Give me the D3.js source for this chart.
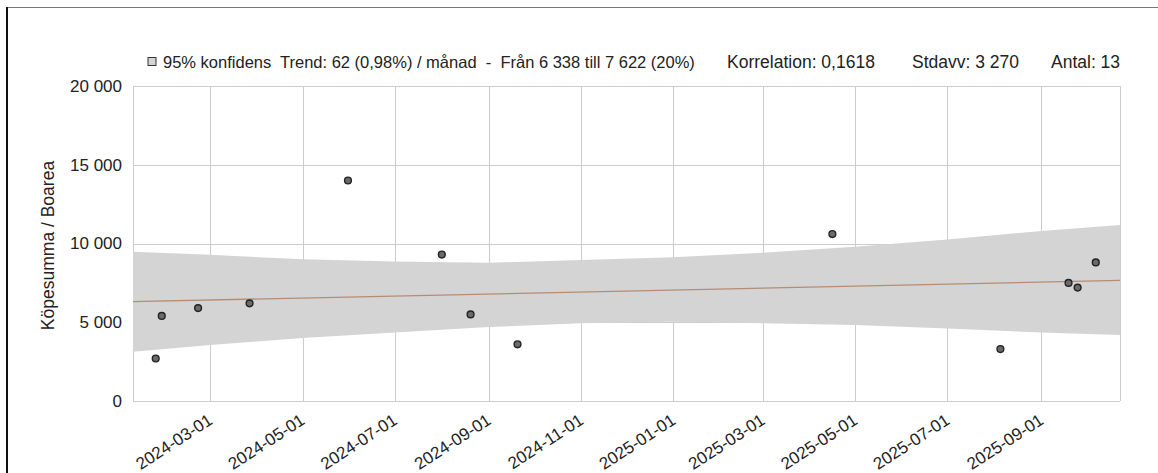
<!DOCTYPE html>
<html>
<head>
<meta charset="utf-8">
<script src="https://cdn.jsdelivr.net/npm/d3@7"></script>
<style>
  html, body { margin: 0; padding: 0; background: #fff; }
  svg { display: block; font-family: "Liberation Sans", Arial, sans-serif; }
  text { white-space: pre; }
</style>
</head>
<body>
<svg id="chart" width="1158" height="473"></svg>
<script>
// Köpesumma / Boarea per affär
const saleDates = ["2024-01-25","2024-01-29","2024-02-22","2024-03-27","2024-05-31","2024-08-01",
                   "2024-08-20","2024-09-20","2025-04-16","2025-08-05","2025-09-19","2025-09-25","2025-10-07"];
const saleValues = [2700, 5400, 5900, 6200, 14000, 9300, 5500, 3600, 10600, 3300, 7500, 7200, 8800];

// Trendlinje: värde vid första och sista affären
const trendDates = ["2024-01-25", "2025-10-07"];
const trendValues = [6338, 7622];

// 95% konfidensintervall runt trenden
const bandDates = ["2024-01-10","2024-03-01","2024-05-01","2024-07-01","2024-09-01","2024-11-01",
                   "2025-01-01","2025-03-01","2025-05-01","2025-07-01","2025-09-01","2025-10-23"];
const bandUpper = [9480, 9280, 9000, 8850, 8780, 8950, 9120, 9420, 9800, 10250, 10800, 11180];
const bandLower = [3130, 3550, 4000, 4350, 4700, 4930, 5030, 4930, 4830, 4600, 4350, 4190];

// Axlar
const xDomain = ["2024-01-10", "2025-10-23"];
const xTickLabels = ["2024-03-01","2024-05-01","2024-07-01","2024-09-01","2024-11-01",
                     "2025-01-01","2025-03-01","2025-05-01","2025-07-01","2025-09-01"];
const yTicks = [0, 5000, 10000, 15000, 20000];
const yTitle = "Köpesumma / Boarea";

// Rubrikrad
const legendLabel = "95% konfidens";
const trendLabel = "Trend: 62 (0,98%) / månad  -  Från 6 338 till 7 622 (20%)";
const statLabels = ["Korrelation: 0,1618", "Stdavv: 3 270", "Antal: 13"];

const parse = d3.utcParse("%Y-%m-%d");
const sv = d3.formatLocale({ decimal: ",", thousands: " ", grouping: [3], currency: ["", " kr"] });
const fmt = sv.format(",d");

const svg = d3.select("#chart");
const plot = { left: 133, right: 1120, top: 86, bottom: 401 };

const x = d3.scaleUtc().domain(xDomain.map(parse)).range([plot.left, plot.right]);
const y = d3.scaleLinear().domain([0, 20000]).range([plot.bottom, plot.top]);

// Ram
svg.append("line").attr("x1", 7).attr("x2", 1158).attr("y1", 7.5).attr("y2", 7.5)
  .attr("stroke", "#777").attr("stroke-width", 1);
svg.append("line").attr("x1", 7).attr("x2", 7).attr("y1", 7).attr("y2", 473)
  .attr("stroke", "#111").attr("stroke-width", 2);

// Rutnät
const grid = svg.append("g").attr("stroke", "#cccccc").attr("stroke-width", 1).attr("shape-rendering", "crispEdges");
grid.selectAll("line.h").data(yTicks).join("line")
  .attr("x1", plot.left).attr("x2", plot.right)
  .attr("y1", d => Math.round(y(d)) + 0.5).attr("y2", d => Math.round(y(d)) + 0.5);
const xTickDates = xTickLabels.map(parse);
grid.selectAll("line.v").data([...xTickDates, ...x.domain()]).join("line")
  .attr("x1", d => Math.round(x(d)) + 0.5).attr("x2", d => Math.round(x(d)) + 0.5)
  .attr("y1", plot.top).attr("y2", plot.bottom);

// Konfidensband
const band = bandDates.map((d, i) => ({ date: parse(d), hi: bandUpper[i], lo: bandLower[i] }));
svg.append("path").datum(band)
  .attr("fill", "#d4d4d4")
  .attr("d", d3.area().x(d => x(d.date)).y0(d => y(d.lo)).y1(d => y(d.hi)));

// Trendlinje, förlängd över hela tidsaxeln
const t0 = parse(trendDates[0]), t1 = parse(trendDates[1]);
const slope = (trendValues[1] - trendValues[0]) / (t1 - t0);
const trendAt = t => trendValues[0] + slope * (t - t0);
const trendPts = x.domain().map(t => ({ date: t, v: trendAt(t) }));
svg.append("path").datum(trendPts)
  .attr("fill", "none").attr("stroke", "#b58d72").attr("stroke-width", 1.3)
  .attr("d", d3.line().x(d => x(d.date)).y(d => y(d.v)));

// Punkter
const pts = saleDates.map((d, i) => ({ date: parse(d), v: saleValues[i] }));
svg.append("g").selectAll("circle").data(pts).join("circle")
  .attr("cx", d => x(d.date)).attr("cy", d => y(d.v)).attr("r", 3.4)
  .attr("fill", "#6a6a6a").attr("stroke", "#222").attr("stroke-width", 1.4);

// Y-axelns etiketter
const yAxis = d3.axisLeft(y).tickValues(yTicks).tickFormat(fmt).tickSize(0).tickPadding(11);
const yg = svg.append("g").attr("transform", `translate(${plot.left},0)`).call(yAxis);
yg.select(".domain").remove();
yg.selectAll("text").attr("font-size", 17).attr("fill", "#222").attr("font-family", "Liberation Sans, Arial, sans-serif");

svg.append("text")
  .attr("transform", `translate(54,${(plot.top + plot.bottom) / 2 + 2}) rotate(-90)`)
  .attr("text-anchor", "middle").attr("font-size", 17.5).attr("fill", "#222")
  .text(yTitle);

// X-axelns etiketter
const xAxis = d3.axisBottom(x).tickValues(xTickDates).tickFormat(d3.utcFormat("%Y-%m-%d")).tickSize(0);
const xg = svg.append("g").attr("transform", `translate(0,${plot.bottom})`).call(xAxis);
xg.select(".domain").remove();
xg.selectAll("text")
  .attr("font-size", 17).attr("fill", "#222").attr("font-family", "Liberation Sans, Arial, sans-serif")
  .attr("text-anchor", "end").attr("dy", null).attr("y", 0)
  .attr("transform", "translate(3,22) rotate(-33)");

// Rubrikrad med förklaring och statistik
const head = svg.append("g").attr("fill", "#222");
head.append("rect").attr("x", 148).attr("y", 57.5).attr("width", 8).attr("height", 8)
  .attr("fill", "#d4d4d4").attr("stroke", "#333").attr("stroke-width", 1);
head.append("text").attr("x", 163).attr("y", 68).attr("font-size", 16.5).text(legendLabel);
head.append("text").attr("x", 280).attr("y", 68).attr("font-size", 16.5).text(trendLabel);
const statX = [727, 912, 1051];
head.selectAll("text.stat").data(statLabels).join("text")
  .attr("class", "stat").attr("font-size", 17.5)
  .attr("x", (d, i) => statX[i]).attr("y", 68).text(d => d);
</script>
</body>
</html>
